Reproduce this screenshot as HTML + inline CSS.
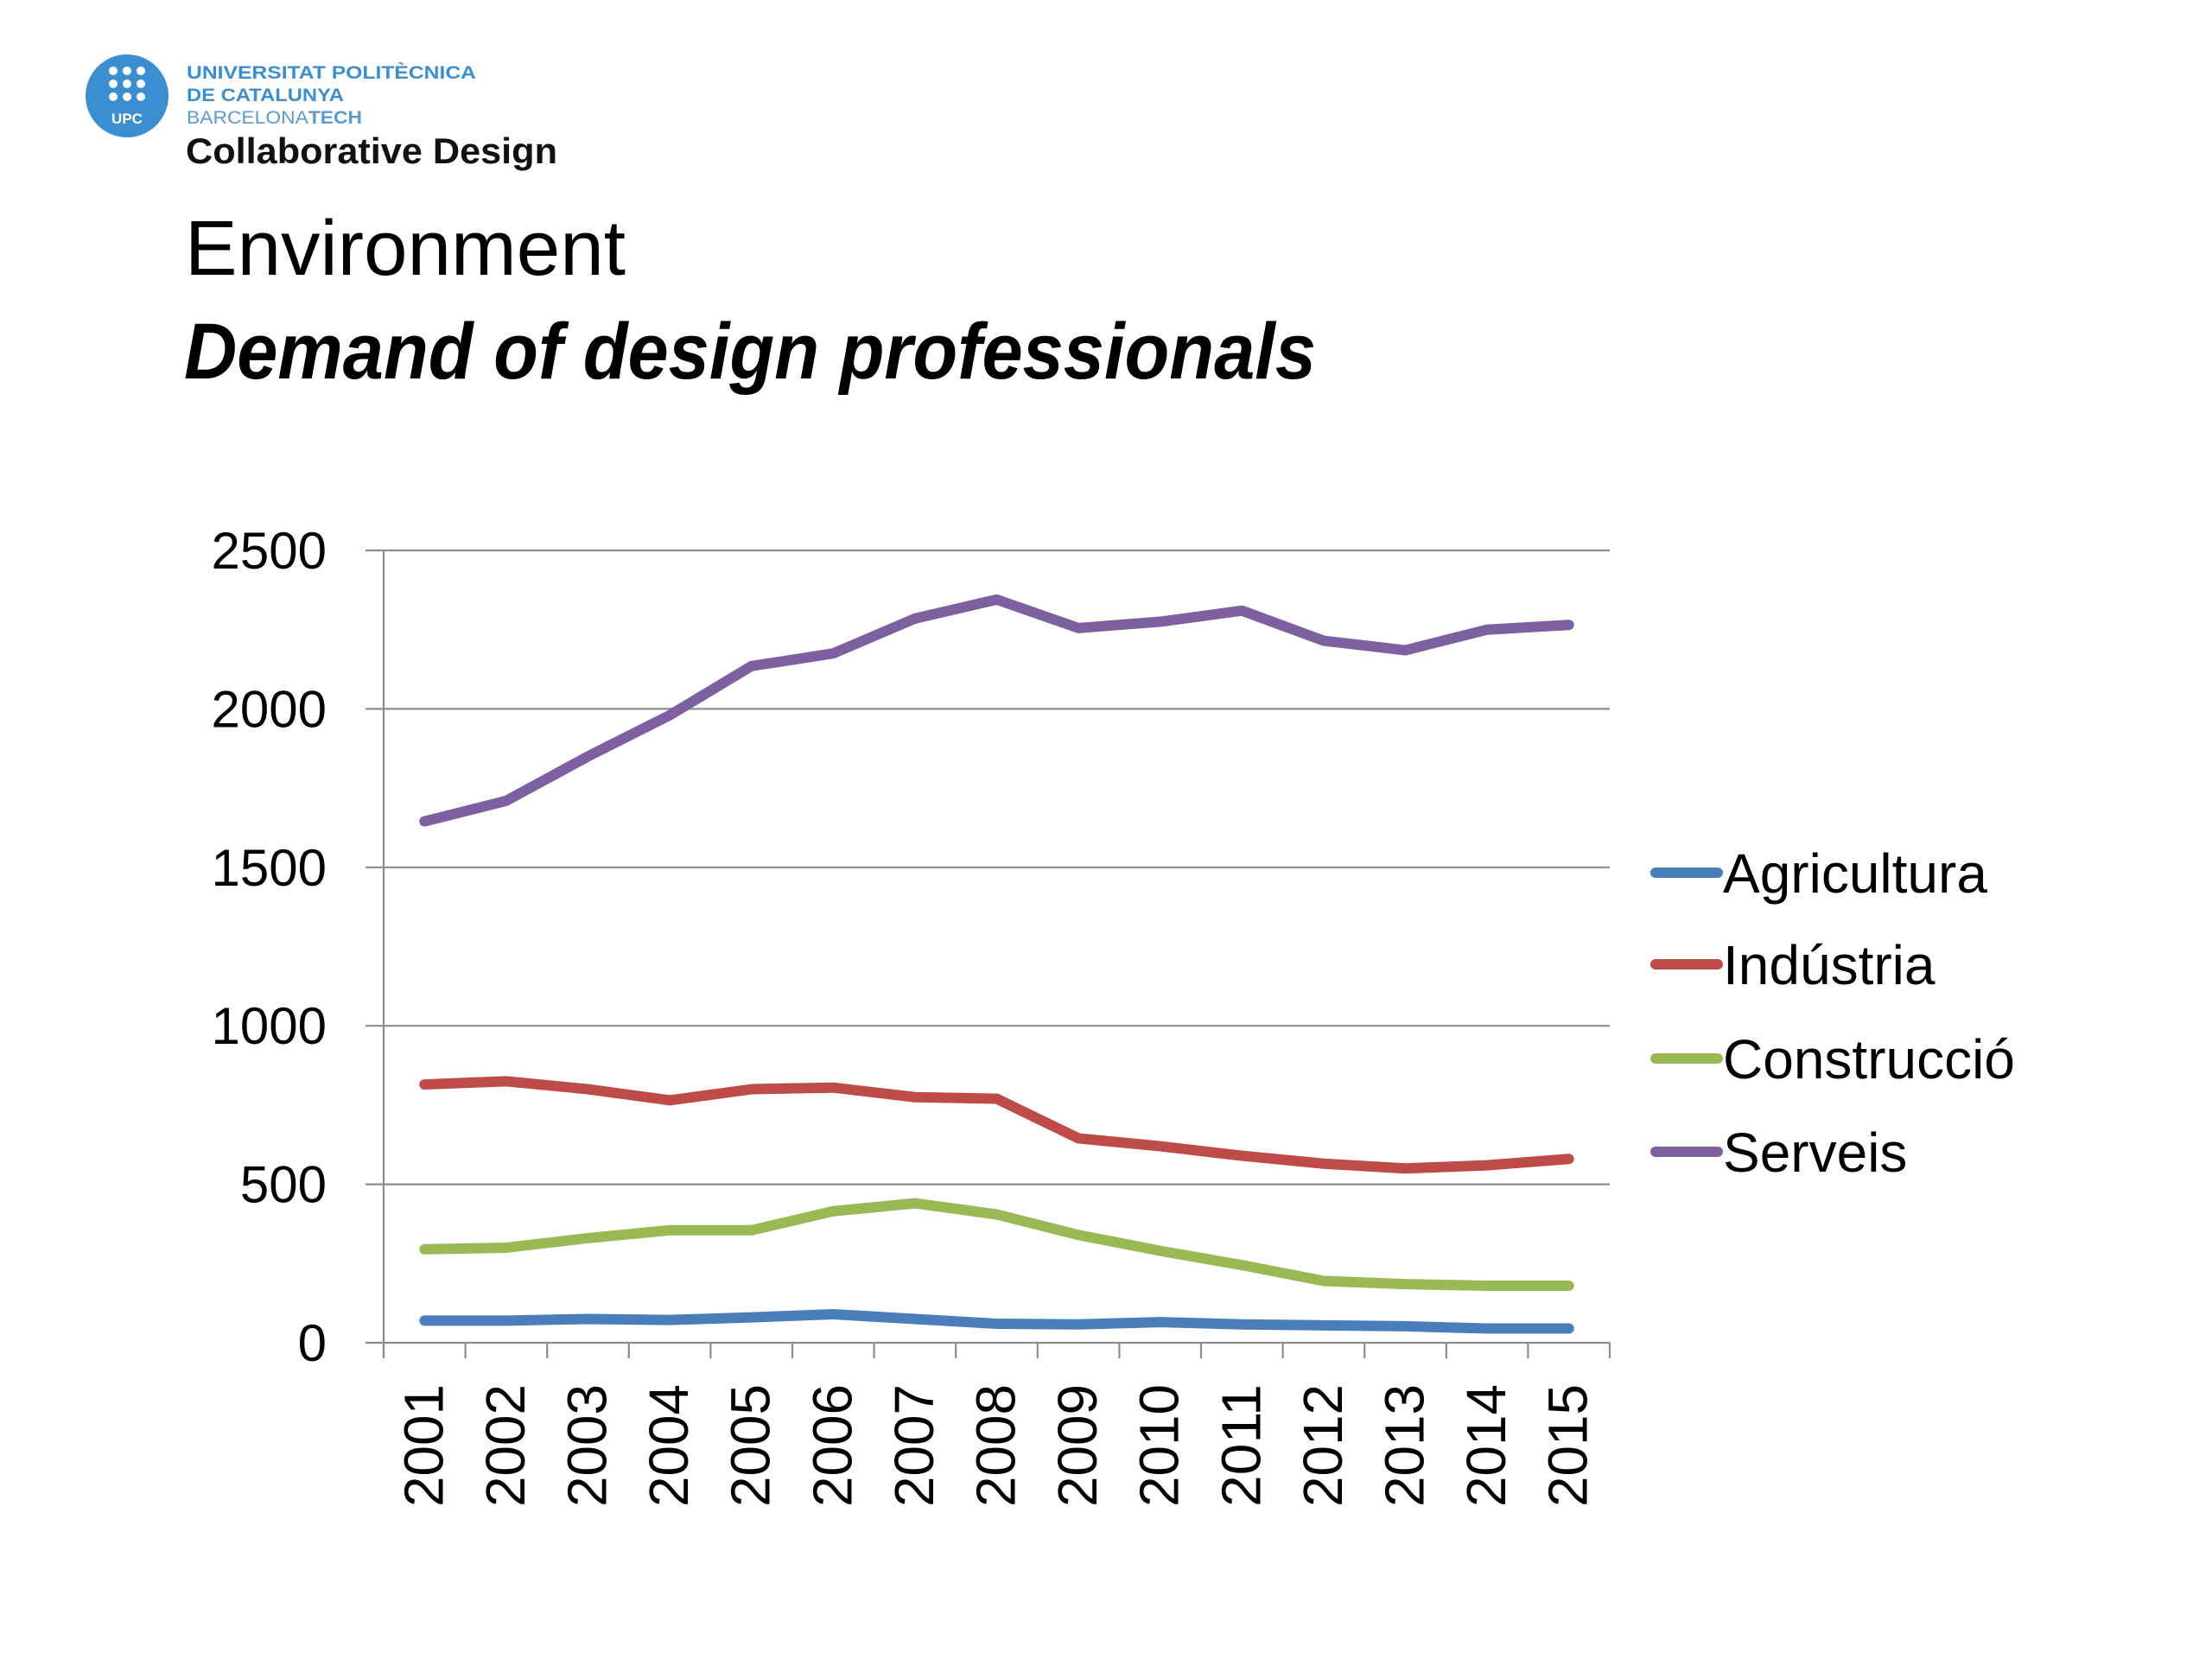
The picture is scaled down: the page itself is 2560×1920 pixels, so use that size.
<!DOCTYPE html>
<html><head><meta charset="utf-8"><style>
html,body{margin:0;padding:0;background:#fff;width:2560px;height:1920px;overflow:hidden}
svg{display:block;font-family:"Liberation Sans",sans-serif}
</style></head><body>
<svg id="chart" width="2560" height="1920" viewBox="0 0 2560 1920">
  <g>
    <circle cx="147" cy="111" r="48" fill="#3b8ed0"/>
    <g fill="#fff">
      <circle cx="131" cy="82" r="5"/><circle cx="147" cy="82" r="5"/><circle cx="163" cy="82" r="5"/>
      <circle cx="131" cy="97" r="5"/><circle cx="147" cy="97" r="5"/><circle cx="163" cy="97" r="5"/>
      <circle cx="131" cy="112" r="5"/><circle cx="147" cy="112" r="5"/><circle cx="163" cy="112" r="5"/>
    </g>
    <text x="147" y="143" font-size="17" font-weight="bold" fill="#fff" text-anchor="middle">UPC</text>
    <text x="216" y="91" font-size="21" font-weight="bold" fill="#3b8ed0" textLength="335" lengthAdjust="spacingAndGlyphs">UNIVERSITAT POLITÈCNICA</text>
    <text x="216" y="117" font-size="21" font-weight="bold" fill="#3b8ed0" textLength="182" lengthAdjust="spacingAndGlyphs">DE CATALUNYA</text>
    <text x="216" y="143" font-size="21" fill="#5a9ad6" textLength="203" lengthAdjust="spacingAndGlyphs">BARCELONA<tspan font-weight="bold">TECH</tspan></text>
  </g>
  <text x="215" y="189" font-size="42" font-weight="bold" fill="#111" textLength="430" lengthAdjust="spacingAndGlyphs">Collaborative Design</text>
  <text x="214" y="318" font-size="90" fill="#000" textLength="510" lengthAdjust="spacingAndGlyphs">Environment</text>
  <text x="213" y="438" font-size="92" font-weight="bold" font-style="italic" fill="#000" textLength="1310" lengthAdjust="spacingAndGlyphs">Demand of design professionals</text>
  <g id="grid"></g>
  <g id="axes"></g>
  <g id="series"></g>
  <g id="legend"></g>
</svg>
<script>
const categories = ["2001","2002","2003","2004","2005","2006","2007","2008","2009","2010","2011","2012","2013","2014","2015"];
const yTicks = [0, 500, 1000, 1500, 2000, 2500];
const seriesNames = ["Agricultura","Indústria","Construcció","Serveis"];
const agricultura = [70,70,75,72,80,90,75,60,58,65,58,55,52,45,45];
const industria = [815,825,800,765,800,805,775,770,645,620,590,565,550,560,580];
const construccio = [295,300,330,355,355,415,440,405,340,290,245,195,185,180,180];
const serveis = [1645,1710,1850,1980,2135,2175,2285,2345,2255,2275,2310,2215,2185,2250,2265];

const NS = "http://www.w3.org/2000/svg";
const L = 444, R = 1863, T = 637, B = 1554, YMAX = 2500;
const colors = ["#4a7ebb","#be4b48","#98b954","#7d60a0"];
const values = [agricultura, industria, construccio, serveis];
const bw = (R - L) / categories.length;
const xScale = i => L + bw * (i + 0.5);
const yScale = v => B - (v / YMAX) * (B - T);

function mk(tag, attrs, parent) {
  const e = document.createElementNS(NS, tag);
  for (const k in attrs) e.setAttribute(k, attrs[k]);
  parent.appendChild(e);
  return e;
}
const grid = document.getElementById("grid");
const axes = document.getElementById("axes");
const sg = document.getElementById("series");
const lg = document.getElementById("legend");

yTicks.forEach(t => {
  const y = yScale(t);
  const gl = mk("line", {x1: 423, x2: R, y1: y, y2: y, stroke: "#8c8c8c", "stroke-width": 2.2}, grid);
  
  
  const tx = mk("text", {x: 378, y: y + 21, "font-size": 60, "text-anchor": "end", fill: "#000"}, axes);
  tx.textContent = t;
  
  
});
const ya = mk("line", {x1: L, x2: L, y1: T, y2: B + 18, stroke: "#8c8c8c", "stroke-width": 2.2}, axes);


for (let i = 0; i <= categories.length; i++) {
  const x = L + bw * i;
  const tk = mk("line", {x1: x, x2: x, y1: B, y2: B + 18, stroke: "#8c8c8c", "stroke-width": 2.2}, axes);
  
  
}
categories.forEach((c, i) => {
  const x = xScale(i) + 21;
  const y = 1602;
  const tx = mk("text", {x: x, y: y, "font-size": 64, "text-anchor": "end", fill: "#000", transform: `rotate(-90 ${x} ${y})`, textLength: 142, lengthAdjust: "spacingAndGlyphs"}, axes);
  tx.textContent = c;
  
  
});
values.forEach((arr, s) => {
  const pts = arr.map((v, i) => xScale(i) + "," + yScale(v)).join(" ");
  const pl = mk("polyline", {points: pts, fill: "none", stroke: colors[s], "stroke-width": 12, "stroke-linejoin": "round", "stroke-linecap": "round"}, sg);
  
  
});
const legendY = [1010, 1116, 1225, 1333];
seriesNames.forEach((n, s) => {
  const g = mk("g", {}, lg);
  
  
  mk("line", {x1: 1916, x2: 1988, y1: legendY[s], y2: legendY[s], stroke: colors[s], "stroke-width": 12, "stroke-linecap": "round"}, g);
  const t = mk("text", {x: 1994, y: legendY[s] + 23, "font-size": 64, fill: "#000"}, g);
  t.textContent = n;
});
</script>
</body></html>
